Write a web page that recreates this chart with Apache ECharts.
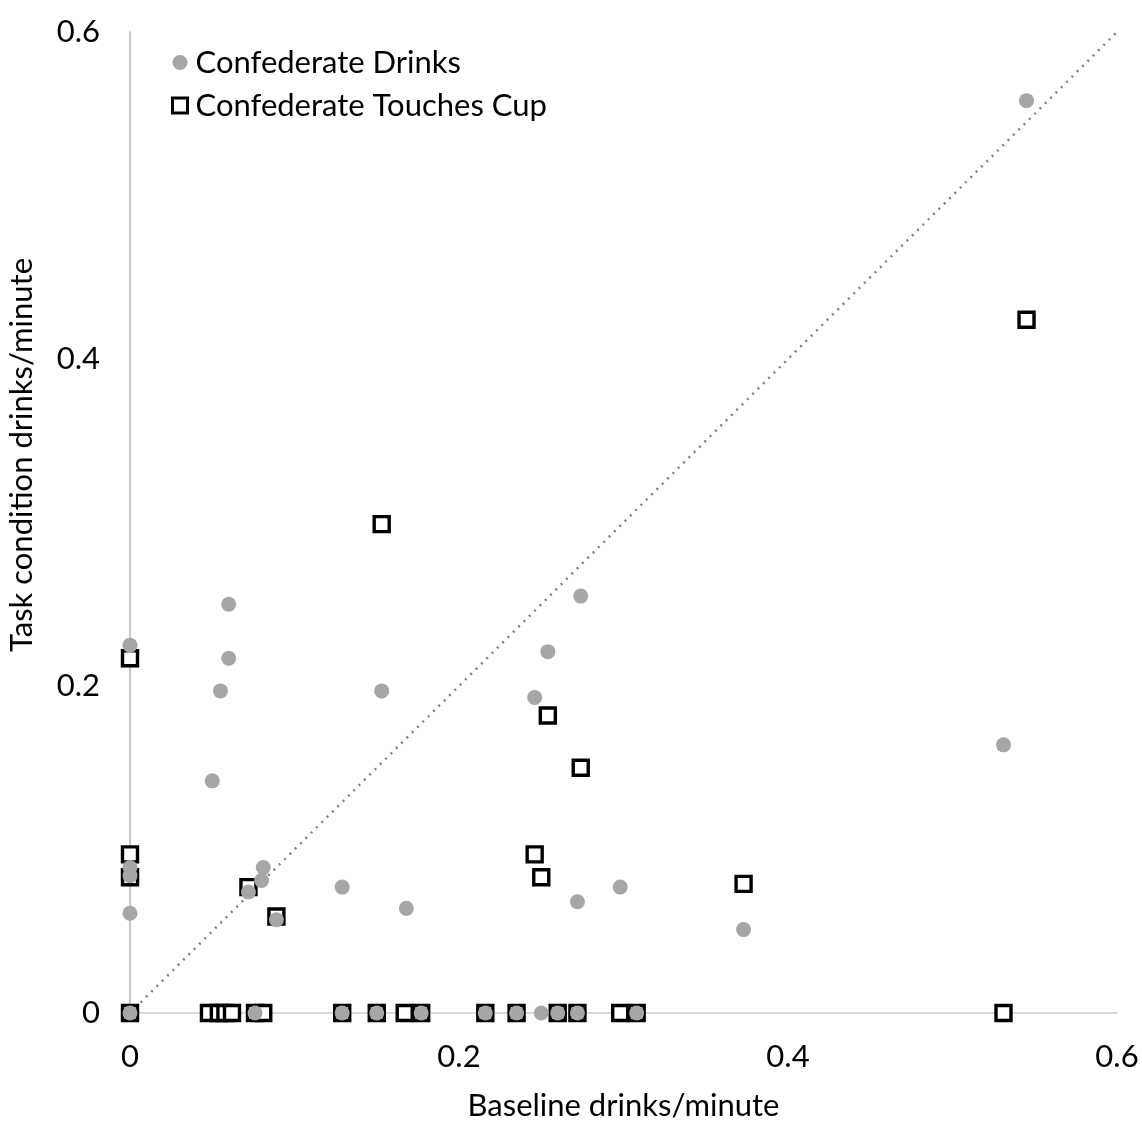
<!DOCTYPE html>
<html>
<head>
<meta charset="utf-8">
<script src="https://cdn.jsdelivr.net/npm/echarts@6/dist/echarts.min.js"></script>
<style>
html,body{margin:0;padding:0;background:#fff;}
#chart{width:1142px;height:1122px;}
</style>
</head>
<body>
<div id="chart"></div>
<script>
// Axis ticks
var xTicks = [0, 0.2, 0.4, 0.6];
var yTicks = [0, 0.2, 0.4, 0.6];

// Confederate Drinks: [baseline, task]
var drinksPoints = [
  [0.545, 0.558], [0.531, 0.164], [0.373, 0.051], [0.298, 0.077], [0.272, 0.068],
  [0.274, 0.255], [0.254, 0.221], [0.246, 0.193], [0.153, 0.197], [0.168, 0.064],
  [0.129, 0.077], [0.060, 0.250], [0.060, 0.217], [0.055, 0.197], [0.050, 0.142],
  [0.081, 0.089], [0.080, 0.081], [0.072, 0.074], [0.089, 0.057],
  [0, 0.225], [0, 0.061], [0, 0.089], [0, 0.084],
  [0, 0], [0.076, 0], [0.129, 0], [0.150, 0], [0.177, 0], [0.216, 0], [0.235, 0],
  [0.250, 0], [0.260, 0], [0.272, 0], [0.308, 0]
];

// Confederate Touches Cup: [baseline, task]
var touchesPoints = [
  [0.545, 0.424], [0.373, 0.079], [0.274, 0.150], [0.254, 0.182], [0.246, 0.097],
  [0.250, 0.083], [0.153, 0.299], [0, 0.217], [0, 0.097], [0, 0.083],
  [0.072, 0.077], [0.089, 0.059],
  [0, 0], [0.048, 0], [0.054, 0], [0.058, 0], [0.062, 0], [0.076, 0], [0.081, 0],
  [0.129, 0], [0.150, 0], [0.167, 0], [0.177, 0], [0.216, 0], [0.235, 0],
  [0.260, 0], [0.272, 0], [0.298, 0], [0.308, 0], [0.531, 0]
];

// Identity line
var identityLine = [[0, 0], [0.6, 0.6]];

var FONT = 'Lato';
var FS = 31;
var chart = echarts.init(document.getElementById('chart'), null, {renderer: 'canvas'});
chart.setOption({
  animation: false,
  backgroundColor: '#ffffff',
  textStyle: {fontFamily: FONT},
  grid: {left: 130, right: 25, top: 32, bottom: 109, containLabel: false, outerBoundsMode: 'none'},
  legend: {
    orient: 'vertical',
    left: 166,
    top: 42,
    itemGap: 12,
    itemWidth: 15,
    itemHeight: 15,
    data: [
      {name: 'Confederate Drinks', icon: 'circle',
        itemStyle: {color: '#a6a6a6', borderWidth: 0}},
      {name: 'Confederate Touches Cup', icon: 'rect',
        itemStyle: {color: '#ffffff', borderColor: '#000000', borderWidth: 3}}
    ],
    textStyle: {fontFamily: FONT, fontSize: FS, lineHeight: 31, color: '#000', padding: [0, 0, 0, 3]}
  },
  xAxis: {
    type: 'value',
    min: xTicks[0], max: xTicks[xTicks.length - 1], interval: 0.2,
    name: 'Baseline drinks/minute',
    nameLocation: 'middle',
    nameGap: 77,
    nameTextStyle: {fontFamily: FONT, fontSize: FS, color: '#000'},
    axisLine: {show: true, onZero: false, lineStyle: {color: '#d9d9d9', width: 2}},
    axisTick: {show: false},
    splitLine: {show: false},
    axisLabel: {margin: 28, fontFamily: FONT, fontSize: FS, color: '#000',
      formatter: function (v) { return String(Math.round(v * 10) / 10); }}
  },
  yAxis: {
    type: 'value',
    min: yTicks[0], max: yTicks[yTicks.length - 1], interval: 0.2,
    axisLine: {show: true, onZero: false, lineStyle: {color: '#c8c8c8', width: 2}},
    axisTick: {show: false},
    splitLine: {show: false},
    axisLabel: {margin: 30, fontFamily: FONT, fontSize: FS, color: '#000',
      formatter: function (v) { return String(Math.round(v * 10) / 10); }}
  },
  graphic: [{
    type: 'text',
    left: 6,
    top: 258,
    rotation: Math.PI / 2,
    style: {text: 'Task condition drinks/minute', fontFamily: FONT, fontSize: FS, fill: '#000'}
  }],
  series: [
    {
      type: 'line',
      data: identityLine,
      symbol: 'none',
      silent: true,
      z: 1,
      lineStyle: {color: '#808080', width: 2.5, type: [2, 5.5]}
    },
    {
      name: 'Confederate Touches Cup',
      type: 'scatter',
      data: touchesPoints,
      symbol: 'rect',
      symbolSize: 15,
      z: 2,
      itemStyle: {color: '#ffffff', borderColor: '#000000', borderWidth: 3.4, opacity: 1}
    },
    {
      name: 'Confederate Drinks',
      type: 'scatter',
      data: drinksPoints,
      symbol: 'circle',
      symbolSize: 15,
      z: 3,
      itemStyle: {color: '#a6a6a6', opacity: 1}
    }
  ]
});
</script>
</body>
</html>
